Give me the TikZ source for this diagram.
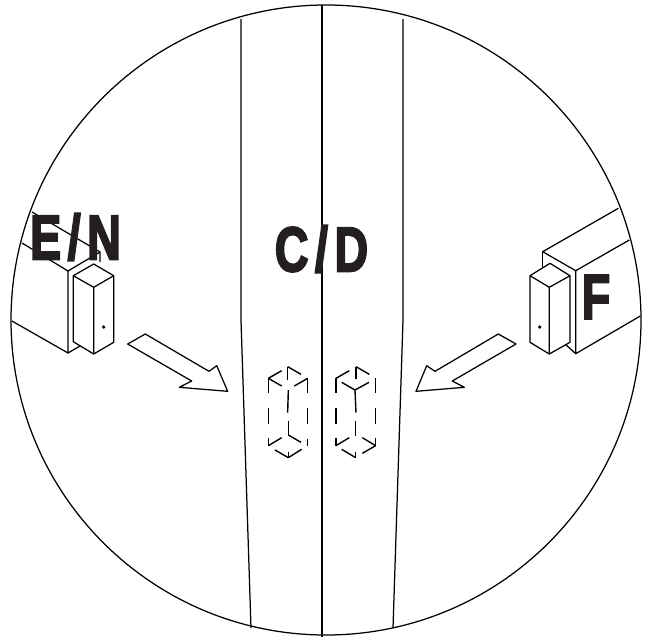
\documentclass[tikz,border=0pt]{standalone}
\usepackage{fontspec}
\setmainfont{Liberation Sans}
\newfontfamily\tagfont[FakeBold=3.5,LetterSpace=14]{Liberation Sans Bold}
\definecolor{inkdark}{HTML}{231F20}
\tikzset{
	outline/.style={line width=1.25pt, line join=round},
	hidden/.style={line width=1.4pt},
	tag/.style={inner sep=0pt, text=inkdark, font=\fontsize{63}{63}\tagfont, xscale=0.74},
}
\begin{document}
\begin{tikzpicture}[x=1pt, y=-1pt]
	\useasboundingbox (0,0) rectangle (648,641);
	\draw[outline] (326,320) circle (315pt);
	% columns
	\draw[outline] (241,19) -- (241,320) -- (251,628);
	\draw[outline] (322,5) -- (322,637);
	\draw[outline] (403,19) -- (403,320) -- (393,628);
	% left block
	\draw[outline] (32,212) -- (100,252) -- (100,262);
	\draw[outline] (22,243) -- (68,271) -- (100,252);
	\draw[outline] (12,321) -- (68,353) -- (68,271);
	\draw[outline] (68,353) -- (80,346);
	\draw[outline, fill=white] (73.3,275.7) -- (93.7,264) -- (113.7,275.7) -- (113.7,342.3) -- (93.7,354) -- (73.3,341.7) -- cycle;
	\draw[outline] (73.3,275.7) -- (93.7,287.3) -- (113.7,275.7) (93.7,287.3) -- (93.7,354);
	\fill (103.7,327) circle (1.8pt);
	% right block
	\draw[outline] (618.3,208.3) -- (542.7,251.7) -- (575.7,270.7) -- (629.3,240);
	\draw[outline] (542.7,251.7) -- (542.7,267);
	\draw[outline] (575.7,270.7) -- (575.7,353.7) -- (640.3,316);
	\draw[outline] (575.7,353.7) -- (564.3,343.3);
	\draw[outline, fill=white] (530,275.7) -- (550,263.3) -- (570,275.7) -- (570,342.3) -- (549.3,354) -- (530,342.3) -- cycle;
	\draw[outline] (530,275.7) -- (549.3,287.3) -- (570,275.7) (549.3,287.3) -- (549.3,354);
	\fill (539.7,327) circle (1.8pt);
	% arrows
	\draw[outline] (127.7,344) -- (145.3,334) -- (209,371.3) -- (216.7,365.7) -- (227.7,391.3) -- (179.3,387.3) -- (191.7,381) -- cycle;
	\draw[outline] (516,344) -- (498.3,334) -- (435,371.3) -- (426.7,365.7) -- (416,391.3) -- (464.3,387.3) -- (452.3,381) -- cycle;
	% hidden boxes
	\begin{scope}[shift={(240,350)}, x=0.3333pt, y=-0.3333pt]
		\foreach \xa/\ya/\xb/\yb in {85/85/125/62, 85/85/125/108, 85/85/85/130, 143/90/143/50, 143/50/183/73,
			163/108/203/85, 203/85/203/130, 145/120/143/188, 85/175/85/222, 203/175/203/222, 145/212/145/255,
			145/255/183/277, 85/287/125/263, 85/265/85/287, 203/268/203/288, 105/300/145/323, 145/323/185/298,
			145/305/145/323, 288/85/328/62, 288/85/288/130, 348/88/348/50, 348/50/388/73, 305/97/345/120,
			345/120/387/97, 407/85/407/130, 345/120/348/188, 288/175/288/222, 407/175/407/222, 347/212/347/258,
			288/287/328/263, 288/265/288/287, 367/263/407/287, 407/265/407/287, 305/298/347/323, 347/305/347/323,
			367/310/407/287}
			\draw[hidden] (\xa,\ya) -- (\xb,\yb);
	\end{scope}
	% labels
	\node[tag] (en) at (75.5,237) {E/N};
	\node[tag] (cd) at (321.5,249) {C/D};
	\node[tag] (f) at (596,297) {F};
\end{tikzpicture}
\end{document}
